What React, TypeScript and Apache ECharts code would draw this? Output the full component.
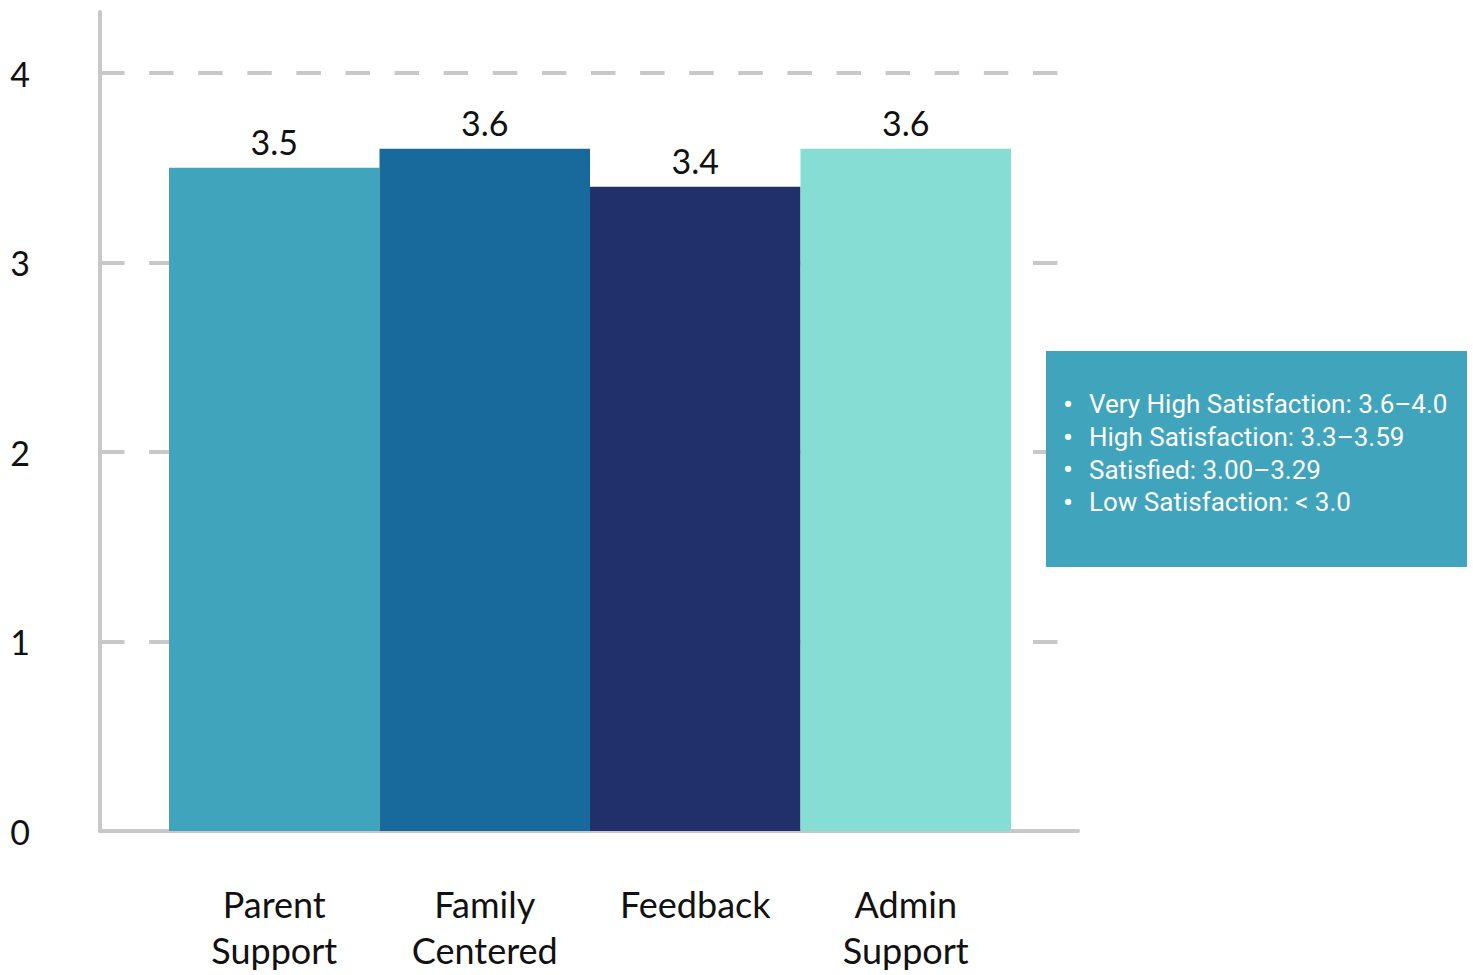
import React, { useEffect, useRef } from "react";
import * as echarts from "echarts";

const categories = ["Parent\nSupport", "Family\nCentered", "Feedback", "Admin\nSupport"];
const values = [3.5, 3.6, 3.4, 3.6];
const barColors = ["#40A4BD", "#186A9C", "#22306A", "#86DDD4"];
const yTicks = [0, 1, 2, 3, 4];
const legendLines = [
  "Very High Satisfaction: 3.6–4.0",
  "High Satisfaction: 3.3–3.59",
  "Satisfied: 3.00–3.29",
  "Low Satisfaction: < 3.0",
];

const FONT = "Lato, 'Source Sans Pro', sans-serif";
const AXIS_GRAY = "#C8C8C8";

export default function App() {
  const ref = useRef<HTMLDivElement>(null);
  useEffect(() => {
    if (!ref.current) return;
    const chart = echarts.init(ref.current, undefined, { renderer: "svg" });
    const yMin = yTicks[0];
    const yMax = yTicks[yTicks.length - 1];
    chart.setOption({
      animation: false,
      grid: [
        { left: 169, right: 462, top: 73, bottom: 144 },
        { left: 100, right: 415, top: 73, bottom: 144 },
        { left: 100, right: 395, top: 12, bottom: 144 },
      ],
      xAxis: [
        {
          type: "category",
          gridIndex: 0,
          data: categories,
          axisLine: { show: false },
          axisTick: { show: false },
          axisLabel: {
            margin: 50,
            fontFamily: FONT,
            fontSize: 36,
            lineHeight: 46,
            color: "#111",
            interval: 0,
          },
        },
        {
          type: "value",
          gridIndex: 1,
          min: 0,
          max: 1,
          show: false,
        },
        {
          type: "value",
          gridIndex: 2,
          min: 0,
          max: 1,
          axisLine: { show: true, lineStyle: { color: AXIS_GRAY, width: 4 } },
          axisTick: { show: false },
          axisLabel: { show: false },
          splitLine: { show: false },
        },
      ],
      yAxis: [
        {
          type: "value",
          gridIndex: 0,
          min: yMin,
          max: yMax,
          interval: 1,
          show: false,
        },
        {
          type: "value",
          gridIndex: 1,
          min: yMin,
          max: yMax,
          interval: 1,
          axisLine: { show: false },
          axisTick: { show: false },
          axisLabel: {
            margin: 70,
            fontFamily: FONT,
            fontSize: 34,
            color: "#111",
            padding: [0, 0, 10, 0],
          },
          splitLine: {
            show: true,
            lineStyle: { color: AXIS_GRAY, width: 4, type: [24.5, 24.6] },
          },
        },
        {
          type: "value",
          gridIndex: 2,
          min: 0,
          max: 1,
          axisLine: { show: true, lineStyle: { color: AXIS_GRAY, width: 4 } },
          axisTick: { show: false },
          axisLabel: { show: false },
          splitLine: { show: false },
        },
      ],
      series: [
        {
          type: "bar",
          xAxisIndex: 0,
          yAxisIndex: 0,
          z: 5,
          data: values.map((v, i) => ({ value: v, itemStyle: { color: barColors[i] } })),
          barWidth: "100%",
          barCategoryGap: 0,
          label: {
            show: true,
            position: "top",
            distance: 9,
            fontFamily: FONT,
            fontSize: 34,
            color: "#111",
          },
        },
      ],
      graphic: [
        {
          type: "rect",
          shape: { x: 1046, y: 351, width: 421, height: 216 },
          style: { fill: "#40A4BD" },
          z: 10,
        },
        {
          type: "text",
          x: 1063,
          y: 388,
          z: 11,
          style: {
            text: legendLines.map(() => "•").join("\n"),
            fill: "#fff",
            font: "30px Roboto, sans-serif",
            lineHeight: 32.7,
          },
        },
        {
          type: "text",
          x: 1089,
          y: 388,
          z: 11,
          style: {
            text: legendLines.join("\n"),
            fill: "#fff",
            font: "26px Roboto, sans-serif",
            lineHeight: 32.7,
          },
        },
      ],
    });
    return () => chart.dispose();
  }, []);
  return <div ref={ref} style={{ width: 1473, height: 975, position: "absolute", left: 0, top: 0 }} />;
}
